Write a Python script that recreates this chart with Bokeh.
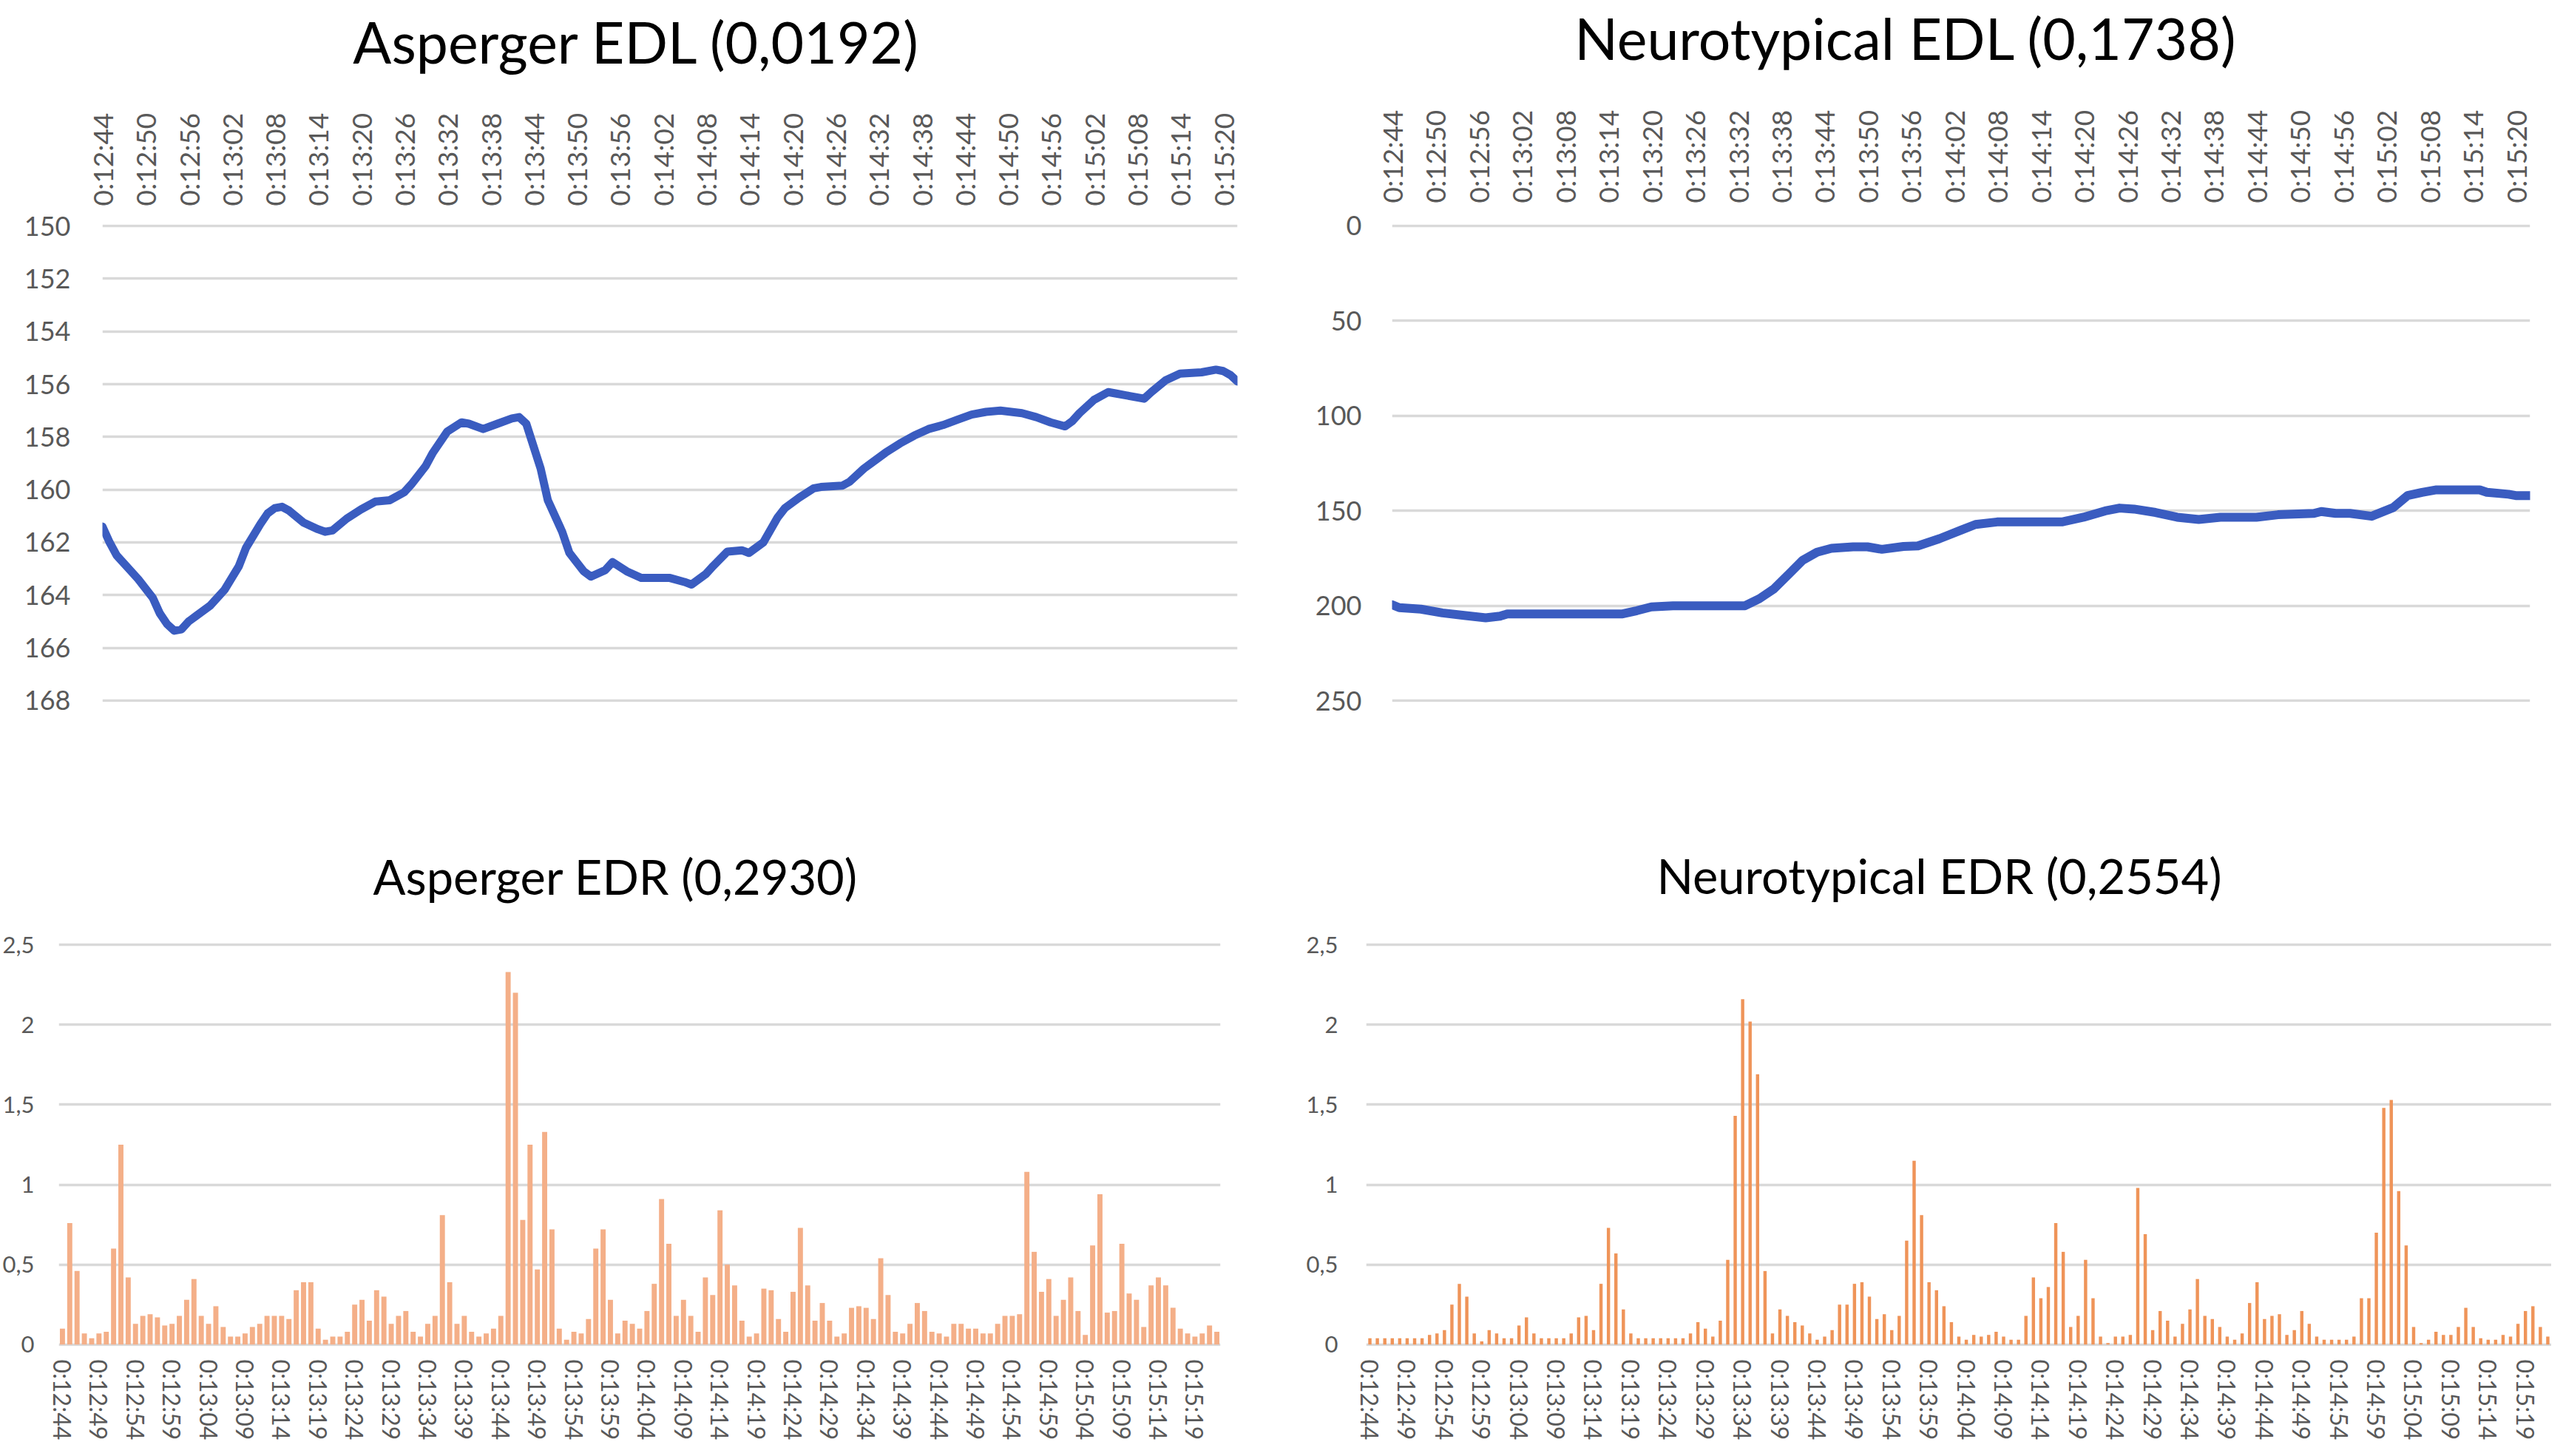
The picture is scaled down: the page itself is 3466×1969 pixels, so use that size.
from bokeh.plotting import figure
from bokeh.models import Range1d, FixedTicker, ColumnDataSource
from bokeh.layouts import column, row
from bokeh.core.properties import value
from bokeh.embed import file_html
from bokeh.resources import INLINE

# ---------------- data ----------------
START = "0:12:44"

TOP_TICK_LABELS = ["0:12:44", "0:12:50", "0:12:56", "0:13:02", "0:13:08", "0:13:14", "0:13:20",
                   "0:13:26", "0:13:32", "0:13:38", "0:13:44", "0:13:50", "0:13:56", "0:14:02",
                   "0:14:08", "0:14:14", "0:14:20", "0:14:26", "0:14:32", "0:14:38", "0:14:44",
                   "0:14:50", "0:14:56", "0:15:02", "0:15:08", "0:15:14", "0:15:20"]

BOTTOM_TICK_LABELS = ["0:12:44", "0:12:49", "0:12:54", "0:12:59", "0:13:04", "0:13:09", "0:13:14",
                      "0:13:19", "0:13:24", "0:13:29", "0:13:34", "0:13:39", "0:13:44", "0:13:49",
                      "0:13:54", "0:13:59", "0:14:04", "0:14:09", "0:14:14", "0:14:19", "0:14:24",
                      "0:14:29", "0:14:34", "0:14:39", "0:14:44", "0:14:49", "0:14:54", "0:14:59",
                      "0:15:04", "0:15:09", "0:15:14", "0:15:19"]

# seconds after 0:12:44 and skin level (EDL)
ASP_EDL_T = [0, 1, 2, 4, 5, 7, 8, 9, 10, 11, 12, 13, 15, 17, 19, 20, 22, 23, 24, 25, 26, 28, 30, 31,
             32, 34, 36, 38, 40, 42, 43, 45, 46, 48, 50, 51, 53, 55, 57, 58, 59, 61, 62, 64, 65, 67,
             68, 70, 71, 73, 75, 77, 79, 81, 82, 84, 85, 87, 89, 90, 92, 94, 95, 97, 99, 100, 103,
             104, 106, 107, 109, 111, 113, 115, 117, 119, 121, 123, 125, 128, 130, 132, 134, 135,
             136, 138, 140, 141, 143, 145, 146, 148, 150, 153, 155, 156, 157, 158]
ASP_EDL_V = [161.4, 162.0, 162.5, 163.1, 163.4, 164.1, 164.7, 165.1, 165.35, 165.3, 165.0, 164.8,
             164.4, 163.8, 162.9, 162.2, 161.3, 160.9, 160.7, 160.65, 160.8, 161.25, 161.5, 161.6,
             161.55, 161.1, 160.75, 160.45, 160.4, 160.1, 159.8, 159.1, 158.6, 157.8, 157.45,
             157.5, 157.7, 157.5, 157.3, 157.25, 157.5, 159.2, 160.4, 161.6, 162.4, 163.1, 163.3,
             163.05, 162.75, 163.1, 163.35, 163.35, 163.35, 163.5, 163.6, 163.2, 162.9, 162.35,
             162.3, 162.4, 162.0, 161.05, 160.7, 160.3, 159.95, 159.9, 159.85, 159.7, 159.2,
             159.0, 158.6, 158.25, 157.95, 157.7, 157.55, 157.35, 157.15, 157.05, 157.0, 157.1,
             157.25, 157.45, 157.6, 157.4, 157.1, 156.6, 156.3, 156.35, 156.45, 156.55, 156.3,
             155.85, 155.6, 155.55, 155.45, 155.5, 155.65, 155.9]

NT_EDL_T = [0, 1, 4, 7, 10, 13, 15, 16, 21, 27, 32, 34, 36, 39, 45, 49, 51, 53, 55, 57, 59, 61, 64,
            66, 68, 71, 73, 76, 79, 81, 84, 88, 93, 96, 99, 101, 103, 106, 109, 112, 115, 120, 123,
            128, 129, 131, 133, 136, 139, 141, 143, 145, 151, 152, 155, 156, 158]
NT_EDL_V = [199.5, 201.0, 201.8, 203.8, 205.1, 206.4, 205.5, 204.3, 204.3, 204.3, 204.3, 202.6,
            200.6, 200.0, 200.0, 200.0, 196.3, 191.2, 183.7, 176.1, 171.8, 169.8, 169.0, 169.0,
            170.3, 168.8, 168.5, 164.7, 160.2, 157.2, 155.9, 155.9, 155.9, 153.4, 150.1, 148.6,
            149.1, 150.9, 153.4, 154.6, 153.4, 153.4, 152.1, 151.4, 150.4, 151.4, 151.4, 152.9,
            148.3, 142.0, 140.3, 139.0, 139.0, 140.3, 141.3, 142.0, 142.0]

# one bar per second from 0:12:44 (EDR)
ASP_EDR = [0.10, 0.76, 0.46, 0.07, 0.04, 0.07, 0.08, 0.60, 1.25, 0.42,
           0.13, 0.18, 0.19, 0.17, 0.12, 0.13, 0.18, 0.28, 0.41, 0.18,
           0.13, 0.24, 0.11, 0.05, 0.05, 0.07, 0.11, 0.13, 0.18, 0.18,
           0.18, 0.16, 0.34, 0.39, 0.39, 0.10, 0.03, 0.05, 0.05, 0.08,
           0.25, 0.28, 0.15, 0.34, 0.30, 0.13, 0.18, 0.21, 0.08, 0.05,
           0.13, 0.18, 0.81, 0.39, 0.13, 0.18, 0.08, 0.05, 0.07, 0.10,
           0.18, 2.33, 2.20, 0.78, 1.25, 0.47, 1.33, 0.72, 0.10, 0.03,
           0.08, 0.07, 0.16, 0.60, 0.72, 0.28, 0.07, 0.15, 0.13, 0.10,
           0.21, 0.38, 0.91,
           0.63, 0.18, 0.28, 0.18, 0.08, 0.42, 0.31, 0.84, 0.50, 0.37,
           0.15, 0.05, 0.07, 0.35, 0.34, 0.16, 0.08, 0.33, 0.73, 0.37,
           0.15, 0.26, 0.15, 0.05, 0.07, 0.23, 0.24, 0.23, 0.16, 0.54,
           0.31, 0.08, 0.07, 0.13, 0.26, 0.21, 0.08, 0.07, 0.05, 0.13,
           0.13, 0.10, 0.10, 0.07, 0.07, 0.13, 0.18, 0.18, 0.19, 1.08,
           0.58, 0.33, 0.41, 0.18, 0.28, 0.42, 0.21, 0.06, 0.62, 0.94,
           0.20, 0.21, 0.63, 0.32, 0.28, 0.11, 0.37, 0.42, 0.37, 0.23,
           0.10, 0.07, 0.05, 0.07, 0.12, 0.08]

NT_EDR = [0.04, 0.04, 0.04, 0.04, 0.04, 0.04, 0.04, 0.04, 0.06, 0.07,
          0.09, 0.25, 0.38, 0.30, 0.07, 0.02, 0.09, 0.07, 0.04, 0.04,
          0.12, 0.17, 0.07, 0.04, 0.04, 0.04, 0.04, 0.07, 0.17, 0.18,
          0.09, 0.38, 0.73, 0.57, 0.22, 0.07, 0.04, 0.04, 0.04, 0.04,
          0.04, 0.04, 0.04, 0.07, 0.14, 0.10, 0.05, 0.15, 0.53, 1.43,
          2.16, 2.02, 1.69, 0.46, 0.07, 0.22, 0.18, 0.14, 0.12, 0.07,
          0.03, 0.05, 0.09, 0.25, 0.25, 0.38, 0.39, 0.30, 0.16, 0.19,
          0.09, 0.18, 0.65, 1.15, 0.81,
          0.39, 0.34, 0.24, 0.14, 0.05, 0.03, 0.06, 0.05, 0.06, 0.08,
          0.05, 0.03, 0.03, 0.18, 0.42, 0.29, 0.36, 0.76, 0.58, 0.11,
          0.18, 0.53, 0.29, 0.05, 0.01, 0.05, 0.05, 0.06, 0.98, 0.69,
          0.09, 0.21, 0.15, 0.05, 0.13, 0.22, 0.41, 0.18, 0.16, 0.11,
          0.05, 0.03, 0.07, 0.26, 0.39, 0.16, 0.18, 0.19, 0.06, 0.09,
          0.21, 0.13, 0.05, 0.03, 0.03, 0.03, 0.03, 0.05, 0.29, 0.29,
          0.70, 1.48, 1.53, 0.96, 0.62, 0.11, 0.01, 0.03, 0.08, 0.06,
          0.06, 0.11, 0.23, 0.11, 0.04, 0.03, 0.03, 0.06, 0.05, 0.13,
          0.21, 0.24, 0.11, 0.05]

ASP_EDL_TICKS = [150, 152, 154, 156, 158, 160, 162, 164, 166, 168]
NT_EDL_TICKS = [0, 50, 100, 150, 200, 250]
EDR_TICKS = [0, 0.5, 1, 1.5, 2, 2.5]
EDR_TICK_LABELS = ["0", "0,5", "1", "1,5", "2", "2,5"]

TITLES = ["Asperger EDL (0,0192)", "Neurotypical EDL (0,1738)",
          "Asperger EDR (0,2930)", "Neurotypical EDR (0,2554)"]

# ---------------- style ----------------
FONT = "Lato"
GRID = "#D9D9D9"
TICK_COLOR = "#595959"
LINE_COLOR = "#3A5CC0"


def secs(label):
    h, m, s = label.split(":")
    return int(h) * 3600 + int(m) * 60 + int(s)


def style_axes(p, xfs, yfs, xstand, ystand):
    for ax in (p.xaxis[0], p.yaxis[0]):
        ax.axis_line_color = None
        ax.major_tick_line_color = None
        ax.minor_tick_line_color = None
        ax.major_tick_out = 0
        ax.major_tick_in = 0
        ax.minor_tick_out = 0
        ax.minor_tick_in = 0
        ax.major_label_text_font = FONT
        ax.major_label_text_color = TICK_COLOR
    p.xaxis[0].major_label_text_font_size = xfs
    p.yaxis[0].major_label_text_font_size = yfs
    p.xaxis[0].major_label_orientation = "vertical"
    p.xaxis[0].major_label_standoff = xstand
    p.yaxis[0].major_label_standoff = ystand
    p.xgrid.visible = False
    p.ygrid.grid_line_color = GRID
    p.ygrid.grid_line_width = 3.5
    p.outline_line_color = None
    p.background_fill_color = "white"
    p.border_fill_color = "white"


def title_fig(text, w, h, cx, cy, size):
    p = figure(width=w, height=h, x_range=Range1d(0, w), y_range=Range1d(0, h), title=None,
               x_axis_location=None, y_axis_location=None,
               toolbar_location=None, output_backend="svg", min_border=0,
               min_border_left=0, min_border_right=0, min_border_top=0, min_border_bottom=0)
    p.grid.visible = False
    p.outline_line_color = None
    p.background_fill_color = "white"
    p.border_fill_color = "white"
    p.text(x=[cx], y=[cy], text=[text], text_font=value(FONT), text_font_size=value(size),
           text_color="black", text_align="center", text_baseline="middle")
    return p


def edl_fig(t, v, yticks, pad, w, h, bl, br, bt, bb, xstand, ystand, lw):
    p = figure(width=w, height=h,
               x_range=Range1d(t[0], t[-1]),
               y_range=Range1d(max(yticks) + pad, min(yticks) - pad),
               x_axis_location="above", toolbar_location=None, output_backend="svg",
               min_border_left=bl, min_border_right=br, min_border_top=bt, min_border_bottom=bb)
    p.line(x=t, y=v, line_width=lw, line_color=LINE_COLOR, line_join="round", line_cap="round")
    p.xaxis[0].ticker = FixedTicker(ticks=[secs(l) - secs(START) for l in TOP_TICK_LABELS])
    p.xaxis[0].major_label_overrides = {secs(l) - secs(START): l for l in TOP_TICK_LABELS}
    p.yaxis[0].ticker = FixedTicker(ticks=yticks)
    style_axes(p, "37px", "36px", xstand, ystand)
    return p


def edr_fig(vals, color, bw, w, h, bl, br, bt, bb, ystand):
    n = len(vals)
    p = figure(width=w, height=h,
               x_range=Range1d(-0.5, n - 0.5),
               y_range=Range1d(-0.01, max(EDR_TICKS) + 0.01),
               toolbar_location=None, output_backend="svg",
               min_border_left=bl, min_border_right=br, min_border_top=bt, min_border_bottom=bb)
    src = ColumnDataSource(dict(x=list(range(n)), top=vals))
    p.vbar(x="x", top="top", bottom=0, width=bw, source=src,
           fill_color=color, line_color=None)
    p.xaxis[0].ticker = FixedTicker(ticks=[secs(l) - secs(START) for l in BOTTOM_TICK_LABELS])
    p.xaxis[0].major_label_overrides = {secs(l) - secs(START): l for l in BOTTOM_TICK_LABELS}
    p.yaxis[0].ticker = FixedTicker(ticks=EDR_TICKS)
    p.yaxis[0].major_label_overrides = dict(zip(EDR_TICKS, EDR_TICK_LABELS))
    style_axes(p, "32px", "31px", 18, ystand)
    return p


WL, WR = 1732, 1718

tl_t = title_fig(TITLES[0], WL, 110, 861, 55, "77px")
tr_t = title_fig(TITLES[1], WR, 110, 845, 60, "77px")
tl = edl_fig(ASP_EDL_T, ASP_EDL_V, ASP_EDL_TICKS, 0.06,
             WL, 982, 138, 59, 193, 141, 25, 43, 11)
tr = edl_fig(NT_EDL_T, NT_EDL_V, NT_EDL_TICKS, 0.75,
             WR, 982, 150, 29, 172, 143, 29, 41, 12)

bl_t = title_fig(TITLES[2], WL, 140, 832, 48, "65px")
br_t = title_fig(TITLES[3], WR, 140, 890, 49, "65px")
bl = edr_fig(ASP_EDR, "#F4AF88", 0.7, WL, 721, 79, 82, 43, 132, 33)
br = edr_fig(NT_EDR, "#EF9459", 0.44, WR, 721, 115, 0, 42, 133, 38)

layout = column(row(tl_t, tr_t, spacing=0),
                row(tl, tr, spacing=0),
                row(bl_t, br_t, spacing=0),
                row(bl, br, spacing=0), spacing=0)

with open("out.html", "w") as f:
    f.write(file_html(layout, INLINE))
